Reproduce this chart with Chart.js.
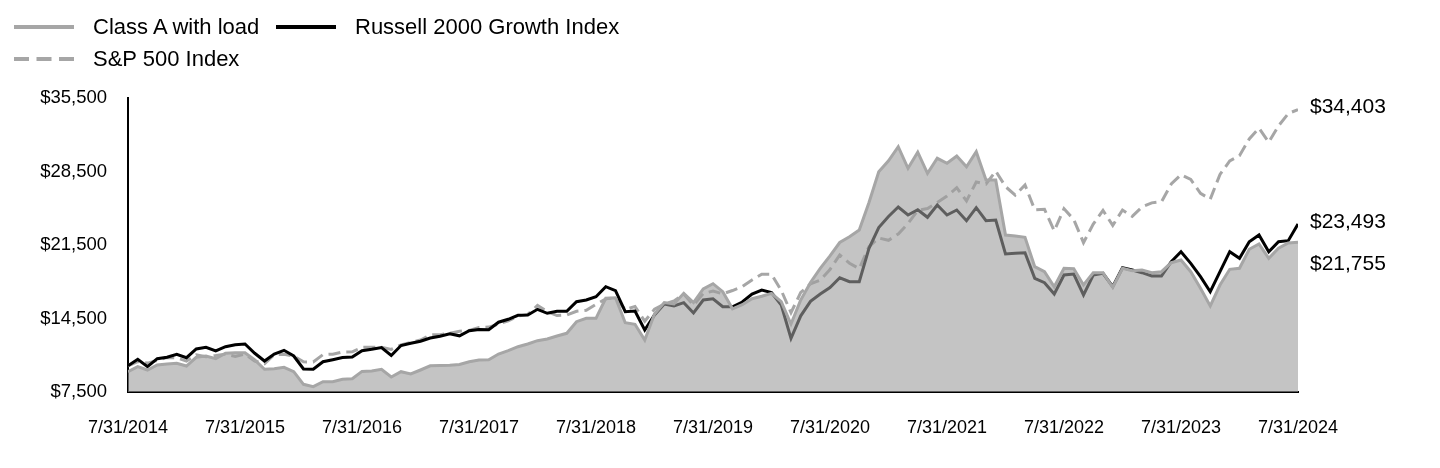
<!DOCTYPE html>
<html>
<head>
<meta charset="utf-8">
<title>Growth of $10,000</title>
<script src="https://cdn.jsdelivr.net/npm/chart.js@4.4.1/dist/chart.umd.min.js"></script>
<style>
    html, body { margin: 0; padding: 0; background: #fff; }
    #wrap { position: relative; width: 1440px; height: 468px; font-family: "Liberation Sans", Arial, sans-serif; }
    #chart { position: absolute; left: 0; top: 0; }
    .lg { position: absolute; height: 30px; display: flex; align-items: center; font-size: 22px; color: #000; white-space: nowrap; }
    .lg svg { margin-right: 19px; flex: none; }
</style>
</head>
<body>
<div id="wrap">
    <canvas id="chart" width="1440" height="468"></canvas>
    <div class="lg" style="left:14px;top:12px">
        <svg width="60" height="8"><line x1="0" y1="4" x2="60" y2="4" stroke="#a6a6a6" stroke-width="4"/></svg>Class A with load
    </div>
    <div class="lg" style="left:276px;top:12px">
        <svg width="60" height="8"><line x1="0" y1="4" x2="60" y2="4" stroke="#000" stroke-width="4"/></svg>Russell 2000 Growth Index
    </div>
    <div class="lg" style="left:14px;top:44px">
        <svg width="60" height="8"><line x1="0" y1="4" x2="60" y2="4" stroke="#a6a6a6" stroke-width="4" stroke-dasharray="15 7.5"/></svg>S&amp;P 500 Index
    </div>
</div>
<script>
// ===== DATA (month-end values, 7/31/2014 .. 7/31/2024) =====
const tickLabels = ['7/31/2014', '7/31/2015', '7/31/2016', '7/31/2017', '7/31/2018', '7/31/2019',
    '7/31/2020', '7/31/2021', '7/31/2022', '7/31/2023', '7/31/2024'];

const classA = [
    9425, 9910, 9595, 10071, 10167, 10233, 9976, 10805, 10929, 10671,
    11186, 11243, 11243, 10548, 9662, 9719, 9852, 9433, 8233, 8005,
    8481, 8481, 8719, 8767, 9462, 9510, 9662, 8929, 9433, 9214,
    9595, 9995, 10024, 10052, 10119, 10376, 10548, 10576, 11119, 11433,
    11814, 12072, 12386, 12548, 12833, 13090, 14195, 14519, 14519, 16424,
    16481, 14100, 13948, 12452, 14929, 16024, 15881, 16900, 16024, 17329,
    17814, 17052, 15424, 15814, 16386, 16624, 16900, 16100, 13976, 16262,
    17929, 19281, 20471, 21738, 22290, 22929, 25548, 28481, 29519, 30862,
    28805, 30338, 28329, 29757, 29281, 29976, 28957, 30386, 27691, 27691,
    22452, 22357, 22234, 19434, 18957, 17529, 19281, 19233, 17691, 18862,
    18862, 17471, 19281, 19052, 19119, 18862, 18957, 19814, 20071, 18957,
    17376, 15690, 17691, 19186, 19281, 21091, 21596, 20234, 21186, 21700,
    21755
];

const russell = [
    10000, 10614, 9910, 10671, 10805, 11090, 10767, 11595, 11757, 11405,
    11814, 12005, 12072, 11186, 10452, 11119, 11471, 10929, 9690, 9662,
    10386, 10576, 10786, 10833, 11433, 11567, 11738, 10976, 11929, 12138,
    12338, 12643, 12805, 13053, 12852, 13338, 13452, 13433, 14148, 14424,
    14805, 14833, 15376, 14995, 15186, 15186, 16100, 16262, 16576, 17529,
    17148, 15148, 15214, 13405, 14833, 15881, 15690, 16005, 15024, 16262,
    16376, 15624, 15614, 16072, 16833, 17214, 16976, 15786, 12614, 14757,
    16138, 16833, 17452, 18376, 18005, 18005, 21186, 23167, 24214, 25119,
    24357, 24862, 24138, 25310, 24357, 24833, 23815, 25053, 23815, 23881,
    20643, 20710, 20767, 18329, 17910, 16833, 18643, 18738, 16738, 18643,
    18805, 17529, 19338, 19119, 18862, 18548, 18548, 19910, 20862, 19757,
    18481, 17052, 18957, 20862, 20233, 21814, 22453, 20862, 21814, 21910,
    23493
];

const sp500 = [
    10000, 10400, 10254, 10505, 10787, 10760, 10437, 11038, 10863, 10968,
    11109, 10894, 11122, 10452, 10194, 11054, 11087, 10912, 10371, 10358,
    11060, 11103, 11303, 11332, 11750, 11767, 11769, 11555, 11982, 12220,
    12452, 12946, 12962, 13095, 13280, 13362, 13638, 13680, 13962, 14287,
    14726, 14889, 15743, 15162, 14777, 14833, 15190, 15285, 15853, 16370,
    16463, 15337, 15650, 14237, 15378, 15871, 16179, 16834, 15765, 16876,
    17119, 16849, 17164, 17536, 18173, 18722, 18714, 17175, 15054, 16984,
    17793, 18147, 19170, 20548, 19767, 19242, 21349, 22168, 21945, 22550,
    23538, 24795, 24969, 25551, 26159, 26954, 25701, 27502, 27312, 28536,
    27060, 26251, 27225, 24851, 24896, 22842, 24948, 23930, 21726, 23486,
    24797, 23368, 24836, 24230, 25119, 25511, 25620, 27314, 28191, 27742,
    26419, 25864, 28226, 29506, 30002, 31604, 32621, 31290, 32842, 34021,
    34403
];

const FONT = '"Liberation Sans", Arial, sans-serif';
const toPoints = arr => arr.map((y, x) => ({ x, y }));
const money = v => '$' + Number(v).toLocaleString('en-US');

// ===== END-OF-LINE VALUE LABELS =====
const endLabels = {
    id: 'endLabels',
    afterDatasetsDraw(chart) {
        const ctx = chart.ctx;
        const items = chart.data.datasets.map((ds, i) => {
            const meta = chart.getDatasetMeta(i);
            const pt = meta.data[meta.data.length - 1];
            return { y: pt.y - 2, text: money(ds.data[ds.data.length - 1].y) };
        }).sort((a, b) => a.y - b.y);
        // push overlapping labels apart
        for (let k = 1; k < items.length; k++) {
            items[k].y = Math.max(items[k].y, items[k - 1].y + 42);
        }
        ctx.save();
        ctx.font = '21px ' + FONT;
        ctx.fillStyle = '#000';
        ctx.textAlign = 'left';
        ctx.textBaseline = 'middle';
        items.forEach(it => ctx.fillText(it.text, chart.chartArea.right + 12, it.y));
        ctx.restore();
    }
};

const axisBorder = { display: true, color: '#000', width: 2 };

new Chart(document.getElementById('chart').getContext('2d'), {
    type: 'line',
    data: {
        datasets: [
            {
                label: 'Class A with load',
                data: toPoints(classA),
                borderColor: '#a6a6a6',
                backgroundColor: 'rgba(157,157,157,0.6)',
                borderWidth: 3, fill: 'start', pointRadius: 0, tension: 0, order: 0
            },
            {
                label: 'Russell 2000 Growth Index',
                data: toPoints(russell),
                borderColor: '#000',
                borderWidth: 3, fill: false, pointRadius: 0, tension: 0, order: 1
            },
            {
                label: 'S&P 500 Index',
                data: toPoints(sp500),
                borderColor: '#a6a6a6', borderDash: [12, 6],
                borderWidth: 3, fill: false, pointRadius: 0, tension: 0, order: 2
            }
        ]
    },
    options: {
        responsive: false,
        animation: false,
        devicePixelRatio: 1,
        layout: { padding: { top: 98, right: 142, left: 0, bottom: 0 } },
        plugins: { legend: { display: false }, tooltip: { enabled: false } },
        scales: {
            x: {
                type: 'linear', min: 0, max: 120, z: 1,
                afterFit: s => { s.height = 76; },
                grid: { display: false, drawTicks: false },
                border: axisBorder,
                ticks: {
                    stepSize: 12, autoSkip: false, maxRotation: 0, minRotation: 0, padding: 25,
                    color: '#000', font: { family: FONT, size: 18 },
                    callback: v => tickLabels[v / 12]
                }
            },
            y: {
                min: 7500, max: 35500, z: 1,
                afterFit: s => { s.width = 128; },
                grid: { display: false, drawTicks: false },
                border: axisBorder,
                ticks: {
                    stepSize: 7000, padding: 21,
                    color: '#000', font: { family: FONT, size: 18.5 },
                    callback: v => money(v)
                }
            }
        }
    },
    plugins: [endLabels]
});
</script>
</body>
</html>
